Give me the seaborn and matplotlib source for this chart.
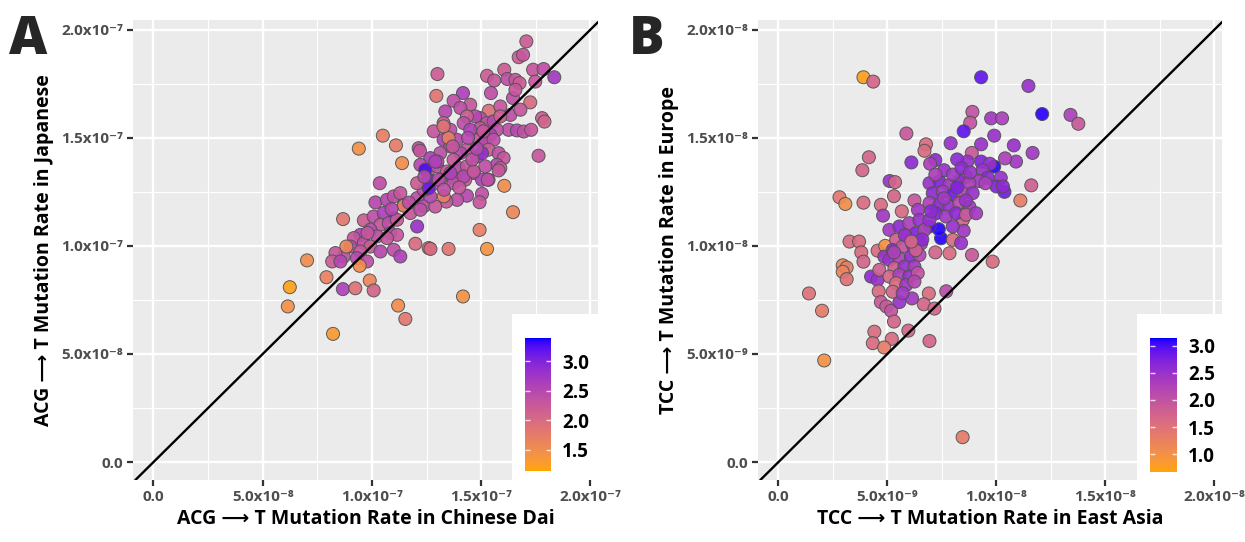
import numpy as np
import matplotlib
matplotlib.use("Agg")
import matplotlib.pyplot as plt
import seaborn as sns
from matplotlib.colors import ListedColormap, Normalize
from matplotlib.cm import ScalarMappable
from matplotlib.patches import Rectangle
from matplotlib.ticker import MultipleLocator, FuncFormatter

sns.set_theme(style="darkgrid", rc={
    "axes.facecolor": "#EBEBEB",
    "grid.color": "white",
})
plt.rcParams["font.family"] = ["Open Sans", "DejaVu Sans"]

# ---- Panel A: ACG -> T, Chinese Dai (x) vs Japanese (y), units of 1e-8 ----
dai_rate = [
    17.07, 16.72, 16.92, 13.0, 12.95, 14.17, 15.27, 15.6, 16.06, 16.2, 16.57, 16.76, 17.38, 17.86,
    18.35, 17.48, 15.45, 16.46, 16.57, 17.25, 13.74, 14.5, 14.05, 13.36, 15.35, 15.88, 16.34, 16.8,
    17.79, 17.9, 17.63, 16.26, 16.64, 16.95, 17.29,
    14.96, 15.27, 15.57, 15.88, 15.72, 15.42, 14.96, 14.73, 14.35, 14.2, 14.5, 14.89, 15.19, 15.57,
    15.34, 15.8, 16.03, 15.72, 15.88, 15.19, 14.81, 14.35, 13.89, 13.59, 13.28, 12.83, 13.28, 13.59,
    14.05, 13.74, 13.13, 12.67, 12.22, 12.6, 12.98, 13.44, 13.97, 14.35, 14.66, 15.04, 14.27, 13.74,
    13.13, 12.75, 12.14, 13.51, 13.28, 12.44, 12.6, 15.04, 16.06, 15.34, 11.38,
    10.36, 10.16, 8.68, 9.63, 11.0, 10.69, 11.0, 11.3, 11.46, 12.07, 12.37, 11.76, 12.07, 11.46,
    10.08, 10.54, 10.39, 9.93, 10.77, 11.15, 10.85, 11.15, 10.24, 9.47, 9.17, 9.02, 9.63, 9.93,
    10.39, 10.69, 11.0, 11.3, 9.47, 9.32, 8.71, 8.33, 8.18, 8.56, 9.78, 8.83, 9.44, 11.99, 12.6,
    7.03, 7.92, 6.24, 6.15, 8.22, 8.67, 9.24, 9.9, 10.08, 11.2, 11.53,
    16.46, 14.93, 15.27, 13.51, 12.68, 14.17, 15.3, 15.04, 14.93, 14.35, 13.9, 13.41, 13.29, 15.8,
    12.22, 12.9, 12.68, 12.37, 12.07, 12.6, 13.74, 14.2, 14.66, 13.59, 13.06,
    10.5, 11.1, 9.4, 12.2,
    13.0, 13.7, 14.4, 14.6, 15.1, 12.4, 12.9, 13.3, 14.0, 14.8, 11.7, 10.9, 9.8,
]
jpn_rate = [
    19.46, 18.73, 18.84, 17.95, 16.94, 17.07, 17.87, 17.65, 18.15, 17.72, 17.68, 17.53, 18.15, 18.18,
    17.8, 17.6, 17.07, 16.84, 17.22, 16.64, 16.71, 16.53, 16.38, 16.22, 16.25, 16.45, 16.06, 16.3,
    15.91, 15.75, 14.17, 15.37, 15.34, 15.29, 15.37,
    15.91, 15.68, 15.76, 15.99, 15.37, 15.14, 15.45, 15.99, 15.99, 15.68, 15.37, 14.91, 14.76, 14.91,
    14.45, 14.29, 14.06, 13.75, 13.6, 13.68, 14.14, 14.45, 14.91, 15.37, 15.68, 15.3, 14.91, 14.6,
    14.29, 13.98, 14.29, 14.06, 13.75, 13.52, 13.68, 13.44, 13.6, 13.68, 13.37, 13.06, 13.06, 13.14,
    13.06, 12.83, 14.52, 14.99, 15.53, 13.52, 13.06, 14.29, 12.78, 13.06, 13.83,
    12.9, 12.01, 11.24, 11.18, 11.28, 12.13, 12.29, 12.44, 11.9, 12.21, 11.83, 11.52, 10.9, 11.86,
    11.36, 11.52, 10.98, 10.75, 11.05, 11.21, 10.59, 10.51, 10.44, 10.51, 10.36, 9.97, 10.13, 9.97,
    9.74, 10.36, 9.82, 9.51, 9.74, 9.43, 9.51, 9.67, 9.28, 9.28, 9.28, 9.97, 9.08, 10.1, 9.9,
    9.33, 8.55, 8.09, 7.2, 5.93, 8.0, 8.04, 8.4, 7.94, 7.24, 6.62,
    11.56, 10.74, 9.86, 9.86, 9.86, 7.66, 13.06, 12.41, 12.02, 12.32, 12.13, 12.05, 12.29, 13.49,
    11.67, 11.82, 12.29, 12.59, 12.9, 12.67, 12.9, 13.21, 13.44, 13.37, 13.06,
    15.1, 14.65, 14.5, 14.4,
    13.9, 14.6, 15.0, 14.0, 15.3, 13.2, 13.9, 12.6, 12.7, 14.5, 12.0, 11.7, 10.6,
]
dai_fold = [
    2.2, 2.2, 2.3, 2.2, 1.85, 2.6, 2.2, 2.3, 2.2, 2.4, 2.3, 2.2, 2.3, 2.4,
    2.7, 2.3, 2.4, 2.4, 2.3, 2.0, 2.4, 2.3, 2.4, 2.5, 1.9, 2.3, 2.4, 2.3,
    2.2, 2.1, 2.3, 2.4, 2.5, 2.4, 2.3,
    2.4, 2.3, 2.5, 2.2, 2.4, 2.6, 2.3, 2.5, 2.2, 2.4, 2.6, 2.3, 2.5, 2.4,
    2.2, 2.4, 2.3, 2.5, 2.2, 2.4, 2.6, 2.3, 2.5, 2.4, 2.2, 2.3, 2.6, 2.4,
    2.5, 2.3, 2.4, 2.6, 2.5, 2.3, 2.4, 2.2, 2.5, 2.3, 2.4, 2.6, 2.3, 2.4,
    2.5, 2.3, 2.4, 1.7, 1.9, 3.25, 3.0, 2.85, 1.5, 2.5, 1.5,
    2.4, 2.5, 1.8, 2.2, 3.3, 2.5, 2.4, 2.3, 2.6, 2.4, 2.5, 2.3, 2.8, 1.7,
    2.4, 2.6, 2.3, 2.5, 2.4, 2.2, 2.5, 2.3, 2.4, 2.6, 2.3, 2.5, 2.4, 2.2,
    2.5, 2.3, 2.4, 2.6, 2.3, 2.5, 2.4, 2.3, 2.2, 2.5, 2.4, 1.6, 1.5, 2.0, 2.0,
    1.5, 1.65, 1.2, 1.45, 1.3, 2.6, 1.9, 1.6, 2.1, 1.5, 1.8,
    1.6, 1.7, 1.4, 1.85, 2.0, 1.45, 2.4, 2.4, 2.3, 2.5, 2.4, 2.3, 1.7, 2.3,
    2.4, 2.3, 2.5, 2.4, 2.2, 3.1, 2.4, 2.5, 2.3, 2.6, 2.4,
    1.7, 1.75, 1.45, 2.3,
    2.4, 2.3, 2.5, 2.4, 2.3, 2.5, 2.6, 2.4, 2.3, 2.5, 2.4, 2.5, 2.3,
]

# ---- Panel B: TCC -> T, East Asia (x) vs Europe (y), units of 1e-9 ----
eas_rate = [
    3.9, 4.35, 9.3, 11.47, 12.1, 13.4, 13.76, 8.9, 8.8, 9.76, 10.26, 8.5, 5.87, 9.9, 6.77, 6.7, 7.9,
    9.3, 10.8, 8.87, 11.66, 4.15, 3.85, 6.1, 7.2, 6.96, 9.9, 10.9, 10.4, 11.6, 11.1, 8.67, 8.2, 9.3,
    9.7, 9.36, 9.6, 10.2, 10.0, 10.37, 10.3, 9.2, 9.5, 8.6, 5.1, 5.35,
    2.8, 3.07, 3.9, 4.7, 4.8, 5.3, 5.66, 6.24, 6.4, 3.26, 3.7, 3.8, 3.9, 4.55, 4.9, 2.95, 3.13, 2.95,
    3.13, 4.25, 4.55, 4.6, 4.7, 4.95, 5.17, 5.55, 6.13, 5.3, 4.4, 4.33, 5.2, 5.96, 4.85, 6.9, 6.67,
    7.16, 7.7, 6.93, 1.4, 2.0, 2.1, 8.45, 9.83, 8.88, 7.85, 7.2, 7.46, 7.36, 6.93, 8.0, 8.38, 8.46,
    8.5, 8.0, 4.63, 4.86,
    5.09, 5.55, 6.0, 6.47, 5.4, 5.86, 6.32, 6.7, 5.24, 5.7, 6.16, 6.55, 5.09, 5.55, 6.08, 6.47, 5.32,
    5.78, 6.24, 5.09, 5.55, 6.0, 6.39, 5.4, 5.86, 6.24, 5.24, 5.7,
    6.93, 7.39, 7.84, 8.3, 8.76, 7.08, 7.54, 8.0, 8.45, 8.91, 6.93, 7.39, 7.84, 8.3, 8.76, 7.23, 7.69,
    8.15, 8.61, 9.07, 6.93,
    7.6, 8.0, 8.4, 7.2, 8.8,
    5.8, 6.3, 6.6, 5.3, 7.0, 7.6, 8.2, 8.6, 6.1,
]
eur_rate = [
    17.8, 17.6, 17.8, 17.4, 16.1, 16.06, 15.65, 16.2, 15.7, 15.9, 15.9, 15.3, 15.2, 15.1, 14.7, 14.4,
    14.75, 14.7, 14.65, 14.3, 14.3, 14.1, 13.5, 13.86, 13.97, 13.8, 13.67, 13.9, 14.05, 12.8, 12.1,
    13.9, 14.0, 13.9, 13.8, 13.5, 13.15, 13.15, 12.75, 12.5, 12.75, 13.0, 12.9, 13.2, 13.0, 12.95,
    12.25, 11.94, 12.0, 11.9, 11.4, 12.3, 11.6, 12.1, 11.67, 10.2, 10.2, 9.7, 9.27, 9.78, 10.0, 9.1,
    9.0, 8.8, 8.46, 8.58, 8.43, 7.9, 7.4, 7.2, 7.0, 7.4, 7.57, 6.5, 6.03, 5.5, 5.7, 6.08, 5.3, 7.8,
    7.3, 7.1, 7.9, 5.6, 7.8, 7.0, 4.7, 1.15, 9.27, 9.58, 9.66, 9.7, 10.35, 10.77, 10.9, 10.28, 10.13,
    11.2, 10.7, 10.9, 8.89, 9.5,
    10.74, 10.9, 11.05, 11.2, 10.28, 10.43, 10.59, 10.74, 9.81, 9.97, 10.05, 10.12, 9.35, 9.43, 9.5,
    9.58, 8.97, 9.04, 9.04, 8.58, 8.66, 8.58, 8.74, 8.27, 8.19, 8.35, 7.88, 7.81,
    12.9, 12.98, 12.82, 12.98, 12.9, 12.44, 12.51, 12.36, 12.44, 12.44, 11.98, 11.9, 11.82, 11.98,
    11.82, 11.51, 11.36, 11.51, 11.44, 11.51, 11.2,
    13.5, 13.3, 13.6, 13.3, 13.4,
    10.5, 9.8, 10.3, 9.7, 11.6, 12.2, 12.7, 12.1, 10.2,
]
eas_fold = [
    0.75, 1.7, 2.9, 2.5, 3.1, 2.3, 1.9, 2.0, 2.0, 2.4, 2.3, 2.9, 1.9, 2.5, 1.6, 1.6, 2.5,
    2.5, 2.5, 1.9, 2.4, 1.7, 1.7, 2.6, 2.6, 2.3, 3.1, 2.4, 2.3, 1.8, 1.3, 2.5, 2.6, 2.7,
    2.5, 2.5, 2.6, 2.5, 2.7, 2.8, 2.6, 2.4, 2.3, 1.9, 2.5, 1.7,
    1.4, 1.05, 1.6, 1.6, 2.4, 1.7, 1.6, 1.9, 2.4, 1.6, 1.6, 1.6, 1.7, 1.6, 1.0, 1.15, 1.3, 1.2,
    1.5, 2.6, 2.5, 1.6, 1.9, 1.9, 2.0, 2.5, 2.4, 1.7, 1.6, 1.6, 1.6, 1.7, 1.3, 1.6, 1.7,
    1.7, 2.1, 1.7, 1.5, 1.35, 1.0, 1.35, 1.6, 1.9, 1.6, 1.7, 3.1, 3.1, 3.0, 1.6, 2.5, 1.7,
    2.4, 2.5, 1.8, 2.5,
    2.4, 2.6, 2.3, 2.5, 1.8, 2.5, 2.7, 2.3, 2.6, 2.0, 2.5, 2.4, 2.5, 2.3, 2.6, 2.2, 1.8,
    2.5, 2.4, 1.7, 2.3, 2.5, 2.0, 1.6, 2.4, 2.2, 1.7, 2.4,
    2.5, 2.7, 2.4, 2.6, 2.3, 2.6, 2.4, 2.8, 2.2, 2.5, 2.3, 2.6, 2.5, 2.1, 2.4, 2.7, 2.4,
    2.6, 1.9, 2.4, 2.5,
    2.5, 2.4, 2.6, 2.3, 2.5,
    2.5, 1.8, 2.6, 2.3, 2.6, 2.4, 2.7, 2.5, 1.7,
]

A_RANGE = (1.14, 3.39)
B_RANGE = (0.67, 3.14)
A_TICKS = [1.5, 2.0, 2.5, 3.0]
B_TICKS = [1.0, 1.5, 2.0, 2.5, 3.0]


# ggplot-style orange -> blue gradient, interpolated in CIELAB
WHITE = np.array([0.95047, 1.0, 1.08883])
M = np.array([[0.4124, 0.3576, 0.1805], [0.2126, 0.7152, 0.0722], [0.0193, 0.1192, 0.9505]])


def rgb_to_lab(rgb):
    lin = np.where(rgb <= 0.04045, rgb / 12.92, ((rgb + 0.055) / 1.055) ** 2.4)
    t = (M @ lin) / WHITE
    f = np.where(t > 0.008856, np.cbrt(t), 7.787 * t + 16 / 116)
    return np.array([116 * f[1] - 16, 500 * (f[0] - f[1]), 200 * (f[1] - f[2])])


def lab_to_rgb(lab):
    fy = (lab[0] + 16) / 116
    f = np.array([fy + lab[1] / 500, fy, fy - lab[2] / 200])
    t = np.where(f ** 3 > 0.008856, f ** 3, (f - 16 / 116) / 7.787) * WHITE
    lin = np.linalg.solve(M, t)
    rgb = np.where(lin <= 0.0031308, 12.92 * lin, 1.055 * np.clip(lin, 0, None) ** (1 / 2.4) - 0.055)
    return np.clip(rgb, 0, 1)


lo = rgb_to_lab(np.array([1.0, 165 / 255, 0.0]))
hi = rgb_to_lab(np.array([0.0, 0.0, 1.0]))
cmap = ListedColormap([lab_to_rgb(lo + (hi - lo) * k) for k in np.linspace(0, 1, 256)])

SUP = str.maketrans("-0123456789", "⁻⁰¹²³⁴⁵⁶⁷⁸⁹")


def sci(v, pos=None):
    if abs(v) < 1e-20:
        return "0.0"
    e = int(np.floor(np.log10(abs(v)) + 1e-9))
    return f"{v / 10 ** e:.1f}x10" + str(e).translate(SUP)


def panel(ax, cax, x, y, c, vrange, ticks, scale, xlabel, ylabel, box_x0):
    xs = np.array(x) * scale
    ys = np.array(y) * scale
    sns.scatterplot(x=xs, y=ys, hue=c, palette=cmap, hue_norm=Normalize(*vrange),
                    legend=False, s=88, edgecolor="#505050", linewidth=0.7, alpha=0.92,
                    ax=ax, zorder=3)
    ax.axline((0, 0), slope=1, color="black", lw=1.7, zorder=4)
    ax.set_xlim(-0.94 * scale, 20.35 * scale)
    ax.set_ylim(-0.83 * scale, 20.45 * scale)
    for axis in (ax.xaxis, ax.yaxis):
        axis.set_major_locator(MultipleLocator(5 * scale))
        axis.set_minor_locator(MultipleLocator(2.5 * scale))
        axis.set_major_formatter(FuncFormatter(sci))
    ax.grid(which="major", color="white", lw=1.7)
    ax.grid(which="minor", color="white", lw=0.8)
    ax.tick_params(which="major", length=4, width=1.6, color="#333333", pad=3,
                   labelsize=11, labelcolor="#4D4D4D", bottom=True, left=True)
    ax.tick_params(which="minor", length=0)
    for lab in ax.get_xticklabels() + ax.get_yticklabels():
        lab.set_fontweight("bold")
    for s in ax.spines.values():
        s.set_visible(False)
    ax.set_xlabel(xlabel, fontsize=14, fontweight="bold", color="black", labelpad=4)
    ax.set_ylabel(ylabel, fontsize=14, fontweight="bold", color="black", labelpad=5)

    ax.add_patch(Rectangle((box_x0, 0), 1 - box_x0, 0.36, transform=ax.transAxes,
                           facecolor="white", edgecolor="none", zorder=6, clip_on=False))
    cb = plt.colorbar(ScalarMappable(norm=Normalize(*vrange), cmap=cmap), cax=cax)
    cb.outline.set_visible(False)
    cb.set_ticks(ticks)
    cb.set_ticklabels([f"{t:.1f}" for t in ticks])
    cax.tick_params(length=0, pad=8, labelsize=13.5, labelcolor="black")
    for lab in cax.get_yticklabels():
        lab.set_fontweight("bold")
    for t in ticks:
        cax.hlines(t, 0, 0.2, color="white", lw=1, alpha=0.8)
        cax.hlines(t, 0.8, 1, color="white", lw=1, alpha=0.8)


fig = plt.figure(figsize=(12.45, 5.42), dpi=100)
ax_a = fig.add_axes([0.1068, 0.1144, 0.3735, 0.8487])
ax_b = fig.add_axes([0.6088, 0.1144, 0.3727, 0.8487])
cax_a = fig.add_axes([0.4217, 0.131, 0.0209, 0.245])
cax_b = fig.add_axes([0.9237, 0.129, 0.0217, 0.247])

panel(ax_a, cax_a, dai_rate, jpn_rate, dai_fold, A_RANGE, A_TICKS, 1e-8,
      "ACG ⟶ T Mutation Rate in Chinese Dai", "ACG ⟶ T Mutation Rate in Japanese", 0.815)
panel(ax_b, cax_b, eas_rate, eur_rate, eas_fold, B_RANGE, B_TICKS, 1e-9,
      "TCC ⟶ T Mutation Rate in East Asia", "TCC ⟶ T Mutation Rate in Europe", 0.817)

fig.text(0.007, 0.975, "A", fontsize=38, fontweight="heavy", va="top", ha="left")
fig.text(0.505, 0.975, "B", fontsize=38, fontweight="heavy", va="top", ha="left")

fig.savefig("out.png", dpi=100)
